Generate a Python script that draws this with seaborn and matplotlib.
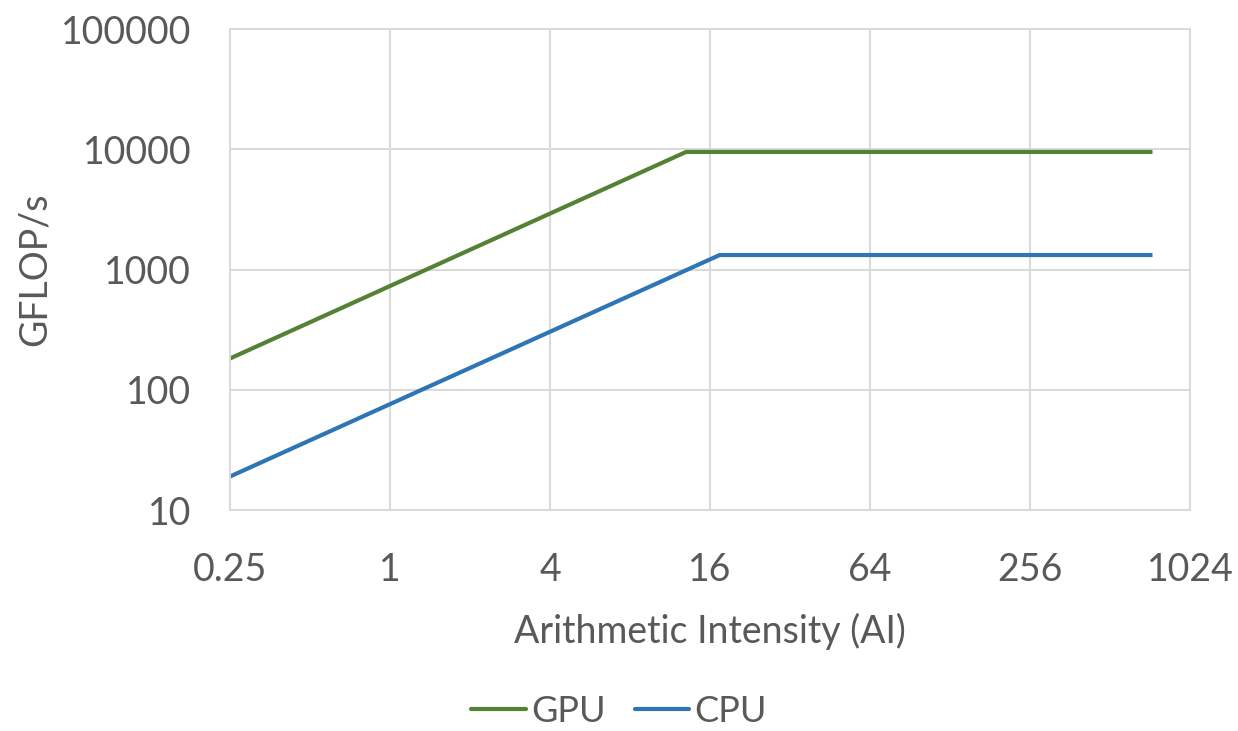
import numpy as np
import pandas as pd
import matplotlib
matplotlib.use("Agg")
import matplotlib.pyplot as plt
import seaborn as sns

# roofline corner points
GPU_AI = [0.25, 13.0, 740]
GPU_GFLOPS = [182, 9500, 9500]
CPU_AI = [0.25, 17.4, 740]
CPU_GFLOPS = [19, 1320, 1320]

X_TICKS = [0.25, 1, 4, 16, 64, 256, 1024]
X_LABELS = ["0.25", "1", "4", "16", "64", "256", "1024"]
Y_TICKS = [10, 100, 1000, 10000, 100000]
Y_LABELS = ["10", "100", "1000", "10000", "100000"]

SERIES = ["GPU", "CPU"]
COLORS = {"GPU": "#548235", "CPU": "#2E75B6"}
TEXT = "#595959"
GRID = "#d9d9d9"

df = pd.concat([
    pd.DataFrame({"AI": GPU_AI, "GFLOPs": GPU_GFLOPS, "device": "GPU"}),
    pd.DataFrame({"AI": CPU_AI, "GFLOPs": CPU_GFLOPS, "device": "CPU"}),
], ignore_index=True)

sns.set_style("whitegrid")
plt.rcParams['font.family'] = ['Lato', 'DejaVu Sans']

fig = plt.figure(figsize=(12.38, 7.31), dpi=100)
ax = fig.add_axes([0.1858, 0.3023, 0.9612 - 0.1858, 0.9603 - 0.3023])

sns.lineplot(data=df, x="AI", y="GFLOPs", hue="device", hue_order=SERIES,
             palette=COLORS, linewidth=3, ax=ax, legend=False, sort=False,
             solid_capstyle="butt")

ax.set_xscale("log", base=2)
ax.set_yscale("log")
ax.set_xlim(0.25, 1024)
ax.set_ylim(10, 100000)
ax.set_xticks(X_TICKS)
ax.set_xticklabels(X_LABELS)
ax.set_yticks(Y_TICKS)
ax.set_yticklabels(Y_LABELS)
ax.minorticks_off()

ax.grid(True, color=GRID, linewidth=1.4)
for s in ax.spines.values():
    s.set_color(GRID)
    s.set_linewidth(1.4)
ax.tick_params(axis="both", length=0, labelsize=27, colors=TEXT)
ax.tick_params(axis="x", pad=30)
ax.tick_params(axis="y", pad=28)

ax.set_xlabel("Arithmetic Intensity (AI)", fontsize=27, color=TEXT, labelpad=18)
ax.set_ylabel("GFLOP/s", fontsize=27, color=TEXT, labelpad=6)

handles = [plt.Line2D([], [], color=COLORS[s], linewidth=3) for s in SERIES]
fig.legend(handles, SERIES, loc="center", bbox_to_anchor=(0.5, 1 - 711 / 731),
           ncol=2, frameon=False, fontsize=26, labelcolor=TEXT,
           handlelength=1.5, handletextpad=0.15, columnspacing=0.8,
           borderpad=0.1)

fig.savefig("out.png", dpi=100)
